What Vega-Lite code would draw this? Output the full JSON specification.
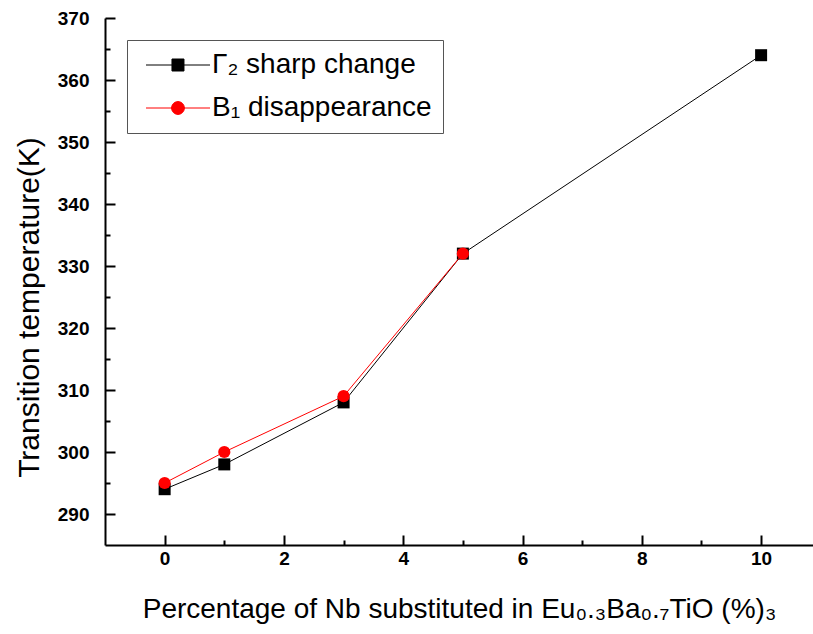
{
  "$schema": "https://vega.github.io/schema/vega-lite/v6.json",
  "width": 708,
  "height": 527,
  "autosize": {"type": "none"},
  "padding": {"left": 105, "top": 18, "right": 0, "bottom": 89},
  "background": "white",
  "config": {
    "view": {"stroke": null},
    "font": "Liberation Sans",
    "axis": {
      "grid": false,
      "domainColor": "black",
      "domainWidth": 2,
      "tickColor": "black",
      "tickWidth": 2,
      "labelColor": "black",
      "labelFont": "Liberation Sans",
      "labelFontWeight": "bold",
      "labelFontSize": 19,
      "titleFont": "Liberation Sans",
      "titleFontWeight": "normal",
      "titleColor": "black"
    },
    "legend": {
      "title": null, "orient": "top-left", "offset": 22, "padding": 11, "strokeColor": "#555", "fillColor": "white",
      "labelFontSize": 28, "labelFont": "Liberation Sans", "labelColor": "black", "labelLimit": 600, "symbolSize": 144, "symbolOpacity": 1,
      "symbolStrokeWidth": 1, "labelOffset": 46, "rowPadding": 15
    }
  },
  "data": {
    "values": [
      {"x": 0, "y": 294, "series": "Γ₂ sharp change"},
      {"x": 1, "y": 298, "series": "Γ₂ sharp change"},
      {"x": 3, "y": 308, "series": "Γ₂ sharp change"},
      {"x": 5, "y": 332, "series": "Γ₂ sharp change"},
      {"x": 10, "y": 364, "series": "Γ₂ sharp change"},
      {"x": 0, "y": 295, "series": "B₁ disappearance"},
      {"x": 1, "y": 300, "series": "B₁ disappearance"},
      {"x": 3, "y": 309, "series": "B₁ disappearance"},
      {"x": 5, "y": 332, "series": "B₁ disappearance"}
    ]
  },
  "resolve": {"axis": {"x": "independent", "y": "independent"}},
  "layer": [
    {
      "transform": [{"filter": "datum.series === 'Γ₂ sharp change'"}],
      "mark": {"type": "line", "color": "black", "strokeWidth": 1},
      "encoding": {
        "x": {"field": "x", "type": "quantitative", "scale": {"domain": [-1, 10.87], "nice": false, "zero": false},
          "axis": {"orient": "bottom", "values": [0, 2, 4, 6, 8, 10], "tickSize": -10, "labelPadding": 14,
            "title": "Percentage of Nb substituted in Eu₀.₃Ba₀.₇TiO (%)₃", "titleFontSize": 28, "titlePadding": 27}},
        "y": {"field": "y", "type": "quantitative", "scale": {"domain": [285, 370], "nice": false, "zero": false},
          "axis": {"orient": "left", "values": [290, 300, 310, 320, 330, 340, 350, 360, 370], "tickSize": -10, "labelPadding": 26,
            "title": "Transition temperature(K)", "titleFontSize": 30, "titlePadding": 13, "titleY": 289}}
      }
    },
    {
      "transform": [{"filter": "datum.series === 'Γ₂ sharp change'"}],
      "mark": {"type": "point", "shape": "square", "filled": true, "color": "black", "size": 144, "opacity": 1},
      "encoding": {
        "x": {"field": "x", "type": "quantitative", "scale": {"domain": [-1, 10.87], "nice": false, "zero": false}, "axis": null},
        "y": {"field": "y", "type": "quantitative", "scale": {"domain": [285, 370], "nice": false, "zero": false}, "axis": null}
      }
    },
    {
      "transform": [{"filter": "datum.series === 'B₁ disappearance'"}],
      "mark": {"type": "line", "color": "red", "strokeWidth": 1},
      "encoding": {
        "x": {"field": "x", "type": "quantitative", "scale": {"domain": [-1, 10.87], "nice": false, "zero": false}, "axis": null},
        "y": {"field": "y", "type": "quantitative", "scale": {"domain": [285, 370], "nice": false, "zero": false}, "axis": null}
      }
    },
    {
      "transform": [{"filter": "datum.series === 'B₁ disappearance'"}],
      "mark": {"type": "point", "shape": "circle", "filled": true, "color": "red", "size": 150, "opacity": 1},
      "encoding": {
        "x": {"field": "x", "type": "quantitative", "scale": {"domain": [-1, 10.87], "nice": false, "zero": false}, "axis": null},
        "y": {"field": "y", "type": "quantitative", "scale": {"domain": [285, 370], "nice": false, "zero": false}, "axis": null}
      }
    },
    {
      "mark": {"type": "point", "filled": true, "opacity": 0, "strokeWidth": 1},
      "encoding": {
        "x": {"field": "x", "type": "quantitative", "scale": {"domain": [-1, 10.87], "nice": false, "zero": false}, "axis": null},
        "y": {"field": "y", "type": "quantitative", "scale": {"domain": [285, 370], "nice": false, "zero": false}, "axis": null},
        "color": {"field": "series", "type": "nominal",
          "scale": {"domain": ["Γ₂ sharp change", "B₁ disappearance"], "range": ["black", "red"]}},
        "stroke": {"field": "series", "type": "nominal",
          "scale": {"domain": ["Γ₂ sharp change", "B₁ disappearance"], "range": ["black", "red"]}},
        "shape": {"field": "series", "type": "nominal",
          "scale": {"domain": ["Γ₂ sharp change", "B₁ disappearance"],
            "range": ["M-1,0H9.67M3.33,-1H5.33V1H3.33Z", "M-1,0H9.67M5.4,0A1.07,1.07,0,1,1,3.26,0A1.07,1.07,0,1,1,5.4,0Z"]}}
      }
    },
    {
      "mark": {"type": "point", "opacity": 0},
      "encoding": {
        "x": {"field": "x", "type": "quantitative", "scale": {"domain": [-1, 10.87], "nice": false, "zero": false},
          "axis": {"orient": "bottom", "values": [1, 3, 5, 7, 9], "tickSize": -5, "labels": false, "domain": false, "title": null}},
        "y": {"field": "y", "type": "quantitative", "scale": {"domain": [285, 370], "nice": false, "zero": false},
          "axis": {"orient": "left", "values": [295, 305, 315, 325, 335, 345, 355, 365], "tickSize": -5, "labels": false, "domain": false, "title": null}}
      }
    }
  ]
}
